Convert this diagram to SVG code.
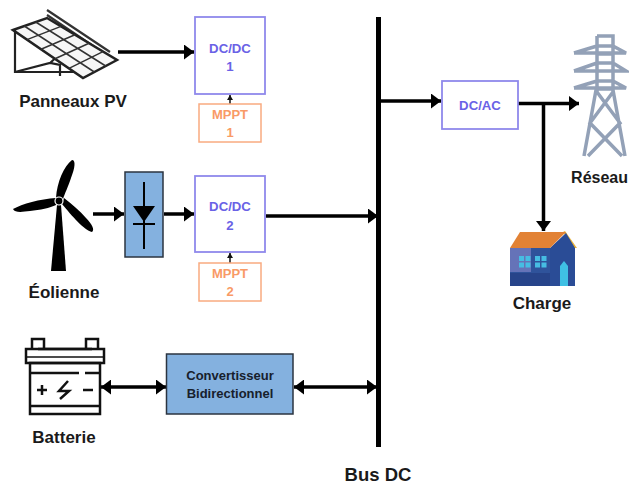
<svg xmlns="http://www.w3.org/2000/svg" width="629" height="486" viewBox="0 0 629 486">
<style>
text{font-family:"Liberation Sans",Arial,sans-serif;font-weight:700;text-anchor:middle}
.lbl{font-size:17px;fill:#1a1a1a}
.blue{font-size:13.2px;fill:#6a62e6}
.or{font-size:13px;fill:#f99a66}
.cv{font-size:13px;fill:#17202c}
.pu{fill:#fff;stroke:#8f89ec;stroke-width:1.8}
.orb{fill:#fff;stroke:#f9ab80;stroke-width:1.5}
.bl{fill:#84b1df;stroke:#2b3440;stroke-width:1.5}
.w{stroke:#000;stroke-width:3.5;fill:none}
.ic{stroke:#111;fill:none;stroke-width:2.500}
</style>
<defs>
<marker id="a" markerUnits="userSpaceOnUse" markerWidth="11" markerHeight="15" refX="10" refY="7.500" orient="auto-start-reverse"><path d="M0 0L10 7.500L0 15Z" fill="#000"/></marker>
<marker id="s" markerUnits="userSpaceOnUse" markerWidth="6" markerHeight="6" refX="5" refY="3" orient="auto"><path d="M0 0L5 3L0 6Z" fill="#111"/></marker>
</defs>
<g id="connectors">
<line x1="118" y1="52" x2="194" y2="52" class="w" marker-end="url(#a)"/>
<line x1="93" y1="214" x2="124" y2="214" class="w" marker-end="url(#a)"/>
<line x1="164" y1="214" x2="194" y2="214" class="w" marker-end="url(#a)"/>
<line x1="266" y1="216" x2="378" y2="216" class="w" marker-end="url(#a)"/>
<line x1="230" y1="104" x2="230" y2="95" stroke="#111" stroke-width="1.500" marker-end="url(#s)"/>
<line x1="230" y1="263" x2="230" y2="253" stroke="#111" stroke-width="1.500" marker-end="url(#s)"/>
<line x1="101" y1="387" x2="166" y2="387" class="w" marker-start="url(#a)" marker-end="url(#a)"/>
<line x1="294" y1="387" x2="377" y2="387" class="w" marker-start="url(#a)" marker-end="url(#a)"/>
<line x1="379" y1="101" x2="441" y2="101" class="w" marker-end="url(#a)"/>
<line x1="518" y1="103.500" x2="579" y2="103.500" class="w" marker-end="url(#a)"/>
<line x1="543.500" y1="103.500" x2="543.500" y2="231" class="w" marker-end="url(#a)"/>
</g>
<g id="bus-dc">
<line x1="378.500" y1="17" x2="378.500" y2="447" stroke="#000" stroke-width="5"/>
<text x="378" y="481" style="font-size:18.500px;fill:#1a1a1a">Bus DC</text>
</g>
<g id="panneaux-pv">
<path d="M47 10L110 52M47 15L108 56" stroke="#333" stroke-width="2.200"/>
<path d="M15 31V72H83M15 72L50 63L60 65V76M50 63L60 54" fill="none" stroke="#222" stroke-width="2.200"/>
<path d="M13 30L47 18L117 60L83 78Z" fill="#f6f6f6" stroke="#222" stroke-width="2.500"/>
<path d="M27 39.600L61 26.400M41 49.200L75 34.800M55 58.800L89 43.200M69 68.400L103 51.600M24.300 26L94.300 72M35.700 22L105.700 66" fill="none" stroke="#333" stroke-width="1.500"/>
<text x="73" y="107" class="lbl">Panneaux PV</text>
</g>
<g id="dcdc1">
<rect x="195" y="17" width="70" height="77" class="pu"/>
<text x="230" y="53" class="blue">DC/DC</text>
<text x="230" y="71" class="blue">1</text>
</g>
<g id="mppt1">
<rect x="199" y="104" width="62" height="38" class="orb"/>
<text x="230" y="119" class="or">MPPT</text>
<text x="230" y="137" class="or">1</text>
</g>
<g id="eolienne">
<path d="M57 205H61L66 271H51Z" fill="#000"/>
<path d="M56 198C57 182 64 166 72 160C76 160 75 168 71 178C68 187 65 193 63 199Z" fill="#000"/>
<path d="M56 198C40 199 22 204 13 209C15 213 22 212 30 211C40 210 50 208 56 205Z" fill="#000"/>
<path d="M62 204C72 216 84 230 92 232C95 230 92 224 86 218C80 211 72 204 64 198Z" fill="#000"/>
<circle cx="59" cy="201" r="4" fill="#000" stroke="#fff" stroke-width="1.200"/>
<text x="64" y="298" class="lbl">Éolienne</text>
</g>
<g id="redresseur">
<rect x="125" y="172" width="38" height="85" class="bl"/>
<path d="M144 182V249M133 224H155" stroke="#000" stroke-width="2" fill="none"/>
<path d="M133 206H155L144 222Z" fill="#000"/>
</g>
<g id="dcdc2">
<rect x="195" y="176" width="70" height="76" class="pu"/>
<text x="230" y="211" class="blue">DC/DC</text>
<text x="230" y="230" class="blue">2</text>
</g>
<g id="mppt2">
<rect x="199" y="263" width="62" height="38" class="orb"/>
<text x="230" y="278" class="or">MPPT</text>
<text x="230" y="296" class="or">2</text>
</g>
<g id="batterie">
<path d="M32 349V339H44V349M86 349V339H98V349M38 349H92" class="ic"/>
<rect x="26" y="349" width="78" height="14" class="ic"/>
<path d="M26 357H104" stroke="#111" stroke-width="1.500"/>
<rect x="30" y="363" width="70" height="51" class="ic"/>
<path d="M30 373H79M85 373H100M30 406H100" class="ic"/>
<path d="M37 390H47M42 385V395M83 390H93" stroke="#111" stroke-width="2.500" fill="none"/>
<path d="M68 381L59 391H69L60 399" stroke="#111" stroke-width="2.500" fill="none"/>
<text x="64" y="443" class="lbl">Batterie</text>
</g>
<g id="convertisseur">
<rect x="166.500" y="354" width="126.500" height="60" class="bl"/>
<text x="230" y="380" class="cv">Convertisseur</text>
<text x="230" y="398" class="cv">Bidirectionnel</text>
</g>
<g id="dcac">
<rect x="442" y="81" width="76" height="48" class="pu"/>
<text x="480" y="110" class="blue">DC/AC</text>
</g>
<g id="reseau">
<path d="M597 36H613V92M597 36V92M597 46H613M597 54H613M597 63H613M597 71H613M597 81H613M597 89H613M574 53L597 46M613 46L626 53H574M574 71L597 63M613 63L626 71H574M574 88L597 81M613 81L626 88H574M596 90L584 156M613 90L625 156M597 92L620 123L588 156M613 92L590 123L622 156" fill="none" stroke="#93a1b7" stroke-width="3.500"/>
<text x="628" y="183" style="font-size:16px;fill:#1a1a1a;text-anchor:end">Réseau</text>
</g>
<g id="charge">
<path d="M565 231L577 248H574L563 232Z" fill="#e8b23a"/>
<path d="M510 286V248H553V286Z" fill="#2f539b"/>
<path d="M510 248H531V272H510Z" fill="#6573b8"/>
<path d="M510 273H553V286H510Z" fill="#27448a"/>
<path d="M550 248L566 233L575 248V286H550Z" fill="#2a4c96"/>
<path d="M510 248L520 232H566L550 248Z" fill="#e28235"/>
<path d="M560 286V266L564 261L568 266V286Z" fill="#3fc0e4"/>
<g fill="#46bde3"><path d="M519 256h5v5h-5zM525.500 256h5v5h-5zM519 262.500h5v5h-5zM525.500 262.500h5v5h-5zM535 256h5v5h-5zM541.500 256h5v5h-5zM535 262.500h5v5h-5zM541.500 262.500h5v5h-5z"/></g>
<text x="542" y="309" class="lbl">Charge</text>
</g>
</svg>
